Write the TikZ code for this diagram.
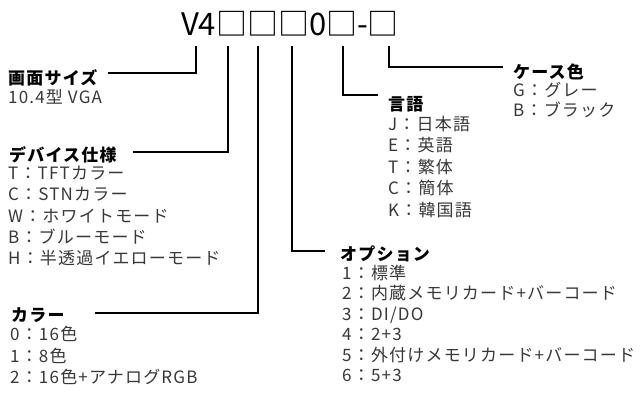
\documentclass[tikz,border=0pt]{standalone}
\usepackage{fontspec}
\setmainfont{Noto Sans CJK JP}[LetterSpace=7]
\newfontfamily\titlefont{Noto Sans CJK JP}
\begin{document}
\begin{tikzpicture}[x=1pt,y=-1pt,
  conn/.style={line width=1.4pt,black},
  head/.style={anchor=west,inner sep=0pt,font=\fontsize{17}{17}\selectfont\bfseries,text=black},
  items/.style={anchor=north west,inner sep=0pt,align=left,text=black!78,font=\fontsize{17}{21.2}\selectfont}]
\useasboundingbox (0,0) rectangle (640,399);
\fill[white] (0,0) rectangle (640,399);
% title
\node[inner sep=0pt,font=\titlefont\fontsize{31}{31}\selectfont] (title) at (290,24) {V4□□□0□-□};
\coordinate (s1) at (196,46);
\coordinate (s2) at (228,46);
\coordinate (s3) at (258,46);
\coordinate (s4) at (292,46);
\coordinate (s5) at (343,46);
\coordinate (s6) at (389,46);
% headers and items
\node[head] (h1) at (8,78) {画面サイズ};
\node[items] (i1) at (8,89) {10.4型 VGA};
\node[head] (h2) at (9,155) {デバイス仕様};
\node[items,font=\fontsize{17}{21.3}\selectfont] (i2) at (8,166) {T：TFTカラー\\C：STNカラー\\W：ホワイトモード\\B：ブルーモード\\H：半透過イエローモード};
\node[head] (h3) at (11,315) {カラー};
\node[items,font=\fontsize{17}{21.5}\selectfont] (i3) at (10,326) {0：16色\\1：8色\\2：16色+アナログRGB};
\node[head] (h4) at (340,254) {オプション};
\node[items,font=\fontsize{17}{20.4}\selectfont] (i4) at (342,265) {1：標準\\2：内蔵メモリカード+バーコード\\3：DI/DO\\4：2+3\\5：外付けメモリカード+バーコード\\6：5+3};
\node[head] (h5) at (388,104) {言語};
\node[items,font=\fontsize{17}{21.5}\selectfont] (i5) at (388,116) {J：日本語\\E：英語\\T：繁体\\C：簡体\\K：韓国語};
\node[head] (h6) at (513,72) {ケース色};
\node[items,font=\fontsize{17}{20.5}\selectfont] (i6) at (513,82) {G：グレー\\B：ブラック};
% connector ends
\coordinate (e1) at (108,73);
\coordinate (e2) at (133,152);
\coordinate (e3) at (95,313);
\coordinate (e4) at (325,251);
\coordinate (e5) at (378,95);
\coordinate (e6) at (503,67);
\draw[conn] (s1) |- (e1);
\draw[conn] (s2) |- (e2);
\draw[conn] (s3) |- (e3);
\draw[conn] (s4) |- (e4);
\draw[conn] (s5) |- (e5);
\draw[conn] (s6) |- (e6);
\end{tikzpicture}
\end{document}
